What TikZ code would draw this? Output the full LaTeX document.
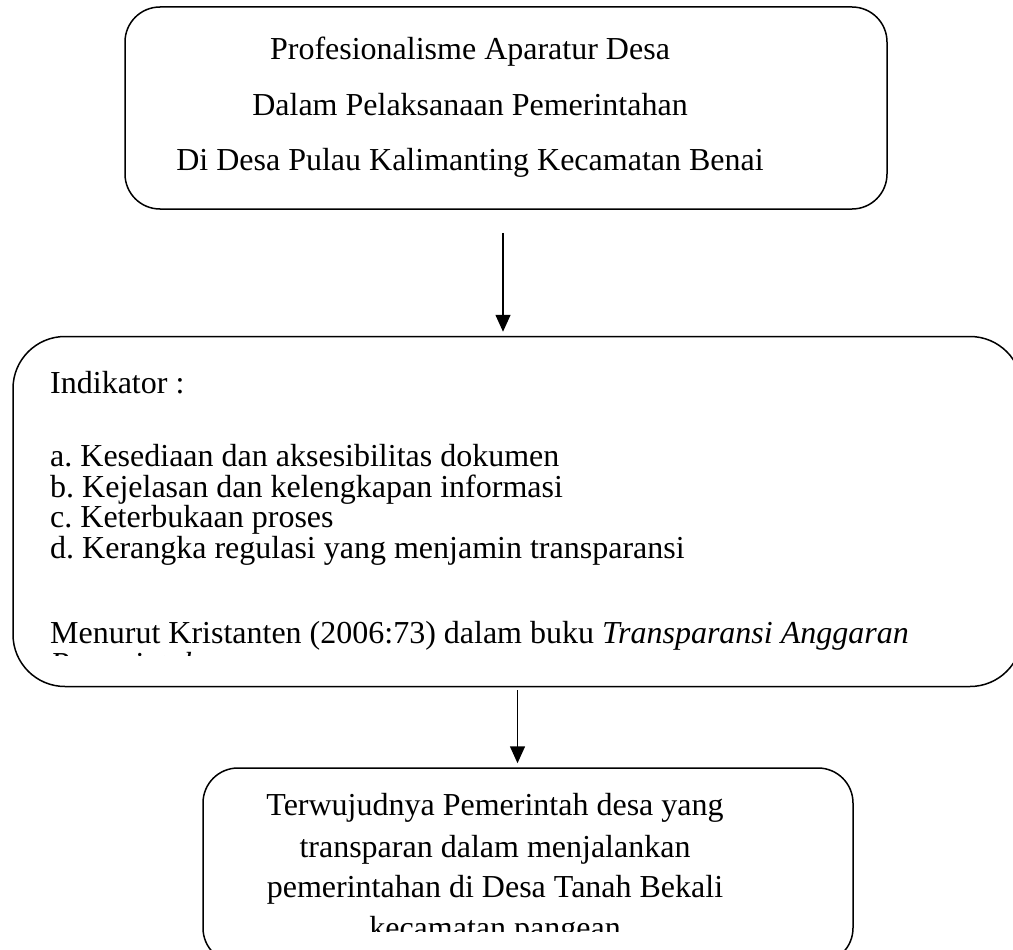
\documentclass[tikz,border=0pt]{standalone}
\usepackage{fontspec}
\setmainfont{Liberation Serif}
\frenchspacing
\usetikzlibrary{arrows.meta,positioning}

\begin{document}
\begin{tikzpicture}[
  x=1pt, y=-1pt,
  box/.style={draw, line width=1.5pt, rounded corners=35pt, inner sep=0pt},
  line/.style={font=\fontsize{32}{38}\selectfont, inner sep=0pt},
  arrow/.style={-{Triangle[length=17pt, width=15pt]}, line width=1.5pt}
]
  \useasboundingbox (0,0) rectangle (1013,950);
  \clip (0,0) rectangle (1013,950);

  % --- top box -------------------------------------------------------
  \node[box, minimum width=762pt, minimum height=202pt] (aparatur) at (506,108) {};
  \foreach \y/\t [count=\i] in {60/Profesionalisme Aparatur Desa,
      115/Dalam Pelaksanaan Pemerintahan,
      170/Di Desa Pulau Kalimanting Kecamatan Benai}
    \node[line, anchor=base] (judul\i) at (470,\y) {\t};

  % --- middle box (indicators) ----------------------------------------
  \node[box, rounded corners=52pt, minimum width=1009pt, minimum height=350pt,
        below=126pt of aparatur, xshift=11.5pt] (indikator) {};
  \foreach \y/\t [count=\i] in {393/Indikator :,
      466/a. Kesediaan dan aksesibilitas dokumen,
      497/b. Kejelasan dan kelengkapan informasi,
      527/c. Keterbukaan proses,
      558/d. Kerangka regulasi yang menjamin transparansi,
      643/Menurut Kristanten (2006:73) dalam buku \textit{Transparansi Anggaran}}
    \node[line, anchor=base west] (item\i) at (50,\y) {\t};
  \begin{scope}
    \clip (0,0) rectangle (1013,655);
    \node[line, anchor=base west] (item7) at (50,674) {\textit{Pemerintah}};
  \end{scope}

  % --- bottom box ----------------------------------------------------
  \node[box, minimum width=650pt, minimum height=195pt,
        below=80pt of indikator, xshift=10.5pt] (hasil) {};
  \foreach \y/\t [count=\i] in {815/Terwujudnya Pemerintah desa yang,
      857/transparan dalam menjalankan,
      897/pemerintahan di Desa Tanah Bekali}
    \node[line, anchor=base] (hasil\i) at (495,\y) {\t};
  \begin{scope}
    \clip (0,0) rectangle (1013,931);
    \node[line, anchor=base] (hasil4) at (495,938) {kecamatan pangean};
  \end{scope}

  % --- arrows --------------------------------------------------------
  \coordinate (pangkal) at ([xshift=-3pt]aparatur.south);
  \draw[arrow, shorten <=23pt, shorten >=4pt] (pangkal) -- (pangkal |- indikator.north);
  \draw[arrow, shorten <=3pt, shorten >=4pt] (indikator.south) -- (indikator.south |- hasil.north);
\end{tikzpicture}
\end{document}
